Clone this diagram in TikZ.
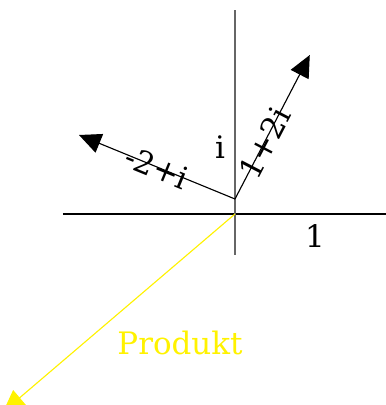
\documentclass[tikz,border=0pt]{standalone}
\usepackage{fontspec}
\setmainfont{DejaVu Serif}
\usepackage{tikz}
\usetikzlibrary{positioning,arrows.meta,calc}

\begin{document}
\begin{tikzpicture}[ax/.style={line width=0.8pt},vec/.style={line width=0.8pt,-{Triangle[length=0.55cm,width=0.5cm]}},lb/.style={font=\fontsize{22}{26}\selectfont,inner sep=1pt}]
\useasboundingbox (-5.875,-4.775) rectangle (3.775,5.35);
\coordinate (O) at (0,0);
\coordinate (S) at (0,0.375);
\coordinate (xl) at (-4.3,0); \coordinate (xr) at (3.775,0);
\coordinate (yt) at (0,5.1); \coordinate (yb) at (0,-1.025);
\coordinate (a) at (1.87,3.975);
\coordinate (b) at (-3.9,1.975);
\coordinate (p) at (-5.8,-4.95);
\draw[ax] (xl) -- (xr);
\draw[ax,black!60] (yt) -- (yb);
\node[lb] (one) at (2.0,-0.55) {1};
\node[lb] (im) at (-0.375,1.675) {i};
\draw[vec] (S) -- (a) node[lb,pos=0.39,sloped] (la) {1+2i};
\draw[vec] (S) -- (b) node[lb,pos=0.5,sloped] (lb2) {-2+i};
\draw[vec,yellow] (O) -- (p);
\node[lb,yellow] (prod) at (-1.375,-3.225) {Produkt};
\end{tikzpicture}
\end{document}
